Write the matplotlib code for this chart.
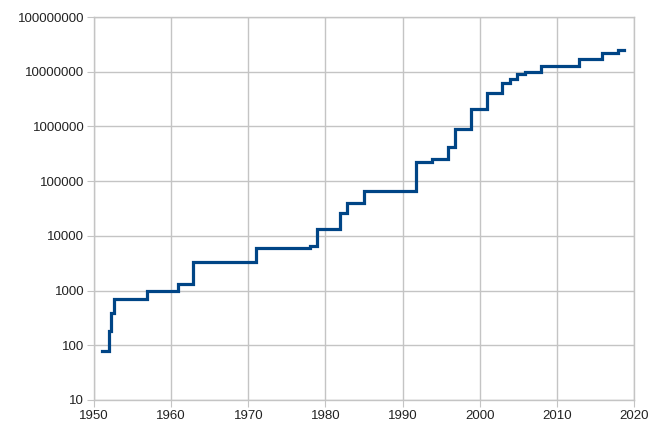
import numpy as np
import matplotlib
matplotlib.use("Agg")
import matplotlib.pyplot as plt
import matplotlib.ticker as ticker

# record prime size (decimal digits) vs. year
years = [1951.0, 1951.9, 1952.25, 1952.6, 1956.9, 1960.85, 1962.8, 1971.0, 1978.0,
         1978.97, 1981.9, 1982.85, 1985.0, 1991.8, 1993.85, 1995.9, 1996.8,
         1998.85, 2000.95, 2002.85, 2003.9, 2004.85, 2005.85, 2007.9, 2012.9,
         2015.8, 2017.95, 2018.7]
digits = [79, 183, 386, 687, 969, 1332, 3376, 6002, 6533,
          13395, 25962, 39751, 65050, 227832, 258716, 420921, 895932,
          2098960, 4053946, 6320430, 7235733, 9152052, 9808358, 12978189, 17425170,
          22338618, 24862048, 24862048]

xticks = [1950, 1960, 1970, 1980, 1990, 2000, 2010, 2020]
yticks = [10, 100, 1000, 10000, 100000, 1000000, 10000000, 100000000]

plt.rcParams.update({'font.family': ['Liberation Sans', 'DejaVu Sans'],
                     'font.size': 9.5})

fig = plt.figure(figsize=(6.51, 4.28), dpi=100)
ax = fig.add_axes([94/651, 1-400/428, 540/651, 383/428])

ax.step(years, digits, where='post', color='#004586', lw=2.3, solid_joinstyle='miter')

ax.set_yscale('log')
ax.set_xlim(1950, 2020)
ax.set_ylim(10, 1e8)
ax.set_xticks(xticks)
ax.set_yticks(yticks)
ax.yaxis.set_major_formatter(ticker.FuncFormatter(lambda v, p: '%d' % v))
ax.yaxis.set_minor_locator(ticker.NullLocator())

ax.grid(True, color='#c4c4c4', lw=1)
ax.set_axisbelow(True)
for s in ax.spines.values():
    s.set_color('#c4c4c4')
    s.set_linewidth(1)
ax.tick_params(which='both', direction='out', length=5, color='#c4c4c4',
               labelcolor='#222222', pad=2)

plt.savefig("out.png", dpi=100)
